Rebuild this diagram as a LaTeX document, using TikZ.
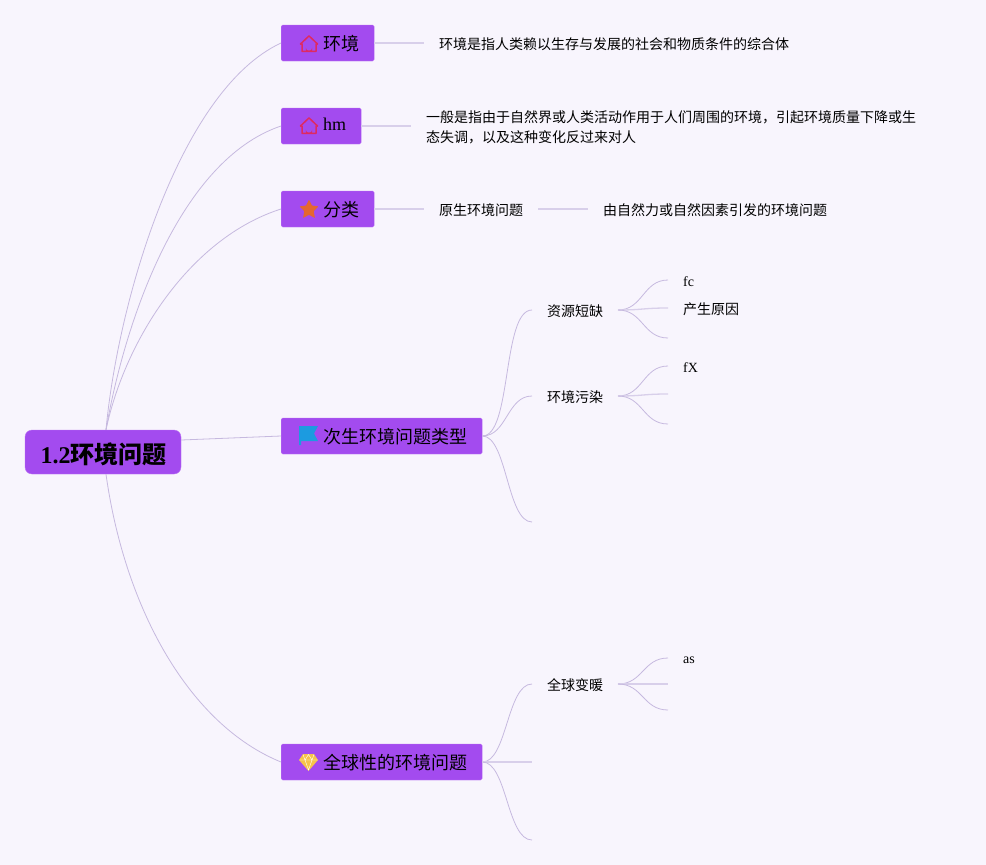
\documentclass[tikz,border=0pt]{standalone}
\usepackage{fontspec}
\setmainfont{Noto Sans CJK SC}
\newfontfamily\lat{Liberation Serif}
\definecolor{pagebg}{HTML}{F8F5FD}
\definecolor{boxfill}{HTML}{A34BEF}
\definecolor{boxedge}{HTML}{BC74F4}
\definecolor{linkcol}{HTML}{C6B9DF}
\definecolor{leadcol}{HTML}{D8CFEA}
\definecolor{housecol}{HTML}{DE2A62}
\definecolor{starcol}{HTML}{E5672F}
\definecolor{flagcol}{HTML}{1C9BE0}
\definecolor{gemcol}{HTML}{F6C44A}
\newcommand{\boxlabel}[2][15pt]{\hspace*{27pt}\raisebox{0pt}[#1][0pt]{#2}}
\tikzset{
  rootbox/.style={draw=boxedge, fill=boxfill, rounded corners=7pt, inner xsep=14.5pt, inner ysep=0pt, minimum height=44pt, font=\fontsize{24}{28}\selectfont\bfseries},
  topicbox/.style={draw=boxedge, fill=boxfill, rounded corners=1.5pt, anchor=west, inner xsep=15pt, inner ysep=0pt, minimum height=36pt, font=\fontsize{18}{22}\selectfont},
  leaftext/.style={anchor=west, inner sep=0pt, align=left, font=\fontsize{14}{20}\selectfont},
  link/.style={draw=linkcol, line width=0.8pt},
  leader/.style={draw=leadcol, line width=1.3pt}
}
\begin{document}
\begin{tikzpicture}[x=1pt, y=-1pt]
	\useasboundingbox[fill=pagebg] (0,0) rectangle (986,865);
	% main nodes
	\node[rootbox] (root) at (103,452) {\raisebox{0pt}[22pt][0pt]{\hspace*{1pt}{\lat 1.2}环境问题}};
	\node[topicbox] (env) at (281,43) {\boxlabel{环境}};
	\node[topicbox] (hm) at (281,126) {\boxlabel[8pt]{\lat hm}};
	\node[topicbox] (kind) at (281,209) {\boxlabel{分类}};
	\node[topicbox] (second) at (281,436) {\boxlabel{次生环境问题类型}};
	\node[topicbox] (globe) at (281,762) {\boxlabel{全球性的环境问题}};
	% text
	\node[leaftext] (envtext) at (439,44) {环境是指人类赖以生存与发展的社会和物质条件的综合体};
	\node[leaftext] (hmtext) at (426,127) {一般是指由于自然界或人类活动作用于人们周围的环境，引起环境质量下降或生\\态失调，以及这种变化反过来对人};
	\node[leaftext] (origin) at (439,210) {原生环境问题};
	\node[leaftext] (origintext) at (603,210) {由自然力或自然因素引发的环境问题};
	\node[leaftext] (lack) at (547,311) {资源短缺};
	\node[leaftext] (dirty) at (547,397) {环境污染};
	\node[leaftext] (warm) at (547,685) {全球变暖};
	\node[leaftext] (fc) at (683,282) {\lat fc};
	\node[leaftext] (cause) at (683,309) {产生原因};
	\node[leaftext] (fx) at (683,368) {\lat fX};
	\node[leaftext] (as) at (683,660) {\lat as};
	% free ends
	\coordinate (envend) at (424,43);
	\coordinate (hmend) at (411,126);
	\coordinate (kindend) at (424,209);
	\coordinate (originstart) at (538,209);
	\coordinate (originend) at (588,209);
	\coordinate (lackend) at (532,310);
	\coordinate (dirtyend) at (532,396);
	\coordinate (thirdend) at (532,522);
	\coordinate (warmend) at (532,684);
	\coordinate (midend) at (532,762);
	\coordinate (lowend) at (532,840);
	\coordinate (lackfork) at (618,310);
	\coordinate (dirtyfork) at (618,396);
	\coordinate (warmfork) at (618,684);
	% root links
	\draw[link] ([xshift=3pt]root.north) .. controls (118,300) and (180,90) .. (env.west);
	\draw[link] ([xshift=3pt]root.north) .. controls (125,320) and (180,160) .. (hm.west);
	\draw[link] ([xshift=3pt]root.north) .. controls (125,340) and (190,238) .. (kind.west);
	\draw[link] (root.east |- 0,440) -- (second.west);
	\draw[link] ([xshift=3pt]root.south) .. controls (125,610) and (190,725) .. (globe.west);
	% leaders
	\draw[leader] (env.east) -- (envend);
	\draw[leader] (hm.east) -- (hmend);
	\draw[leader] (kind.east) -- (kindend);
	\draw[leader] (originstart) -- (originend);
	% second level
	\draw[link] (second.east) .. controls (512,436) and (502,310) .. (lackend);
	\draw[link] (second.east) .. controls (507,436) and (507,396) .. (dirtyend);
	\draw[link] (second.east) .. controls (507,436) and (507,522) .. (thirdend);
	\draw[link] (globe.east) .. controls (507,762) and (507,684) .. (warmend);
	\draw[leader] (globe.east) -- (midend);
	\draw[link] (globe.east) .. controls (507,762) and (507,840) .. (lowend);
	% third level
	\foreach \fork/\y/\ya/\yb/\yc in {lackfork/310/280/308/338, dirtyfork/396/366/394/424, warmfork/684/658/684/710} {
		\draw[link] (\fork) .. controls (643,\y) and (643,\ya) .. (668,\ya);
		\draw[leader] (\fork) .. controls (643,\y) and (643,\yb) .. (668,\yb);
		\draw[link] (\fork) .. controls (643,\y) and (643,\yc) .. (668,\yc);
	}
	% icons
	\foreach \y in {35,117} {
		\draw[housecol, line width=1.5pt, line join=round] (300.5,\y+9) -- (309,\y+0.9) -- (317.5,\y+9) -- (316,\y+9) -- (316,\y+16.3) -- (302,\y+16.3) -- (302,\y+9) -- cycle;
		\fill[housecol] (305.8,\y+16.5) -- (305.8,\y+12.7) arc (180:0:3.2) -- (312.2,\y+16.5) -- cycle;
	}
	\fill[starcol, rounded corners=0.6pt] (309,199.5) -- (312,205.6) -- (318.5,206.4) -- (313.6,211.2) -- (315,218) -- (309,214.8) -- (303,218) -- (304.4,211.2) -- (299.5,206.4) -- (306,205.6) -- cycle;
	\fill[flagcol] (299,426) -- (318,426) -- (314,433.5) -- (318,441) -- (301,441) -- (301,445) -- (299,445) -- cycle;
	\fill[gemcol] (303,754) -- (314,754) -- (318,760) -- (308.5,771) -- (299,760) -- cycle;
	\draw[white, line width=0.4pt] (299.5,760) -- (317.5,760) (303,754.5) -- (305,760) -- (308.5,770) -- (312,760) -- (314,754.5) (305,760) -- (308.5,754.5) -- (312,760);
\end{tikzpicture}
\end{document}
